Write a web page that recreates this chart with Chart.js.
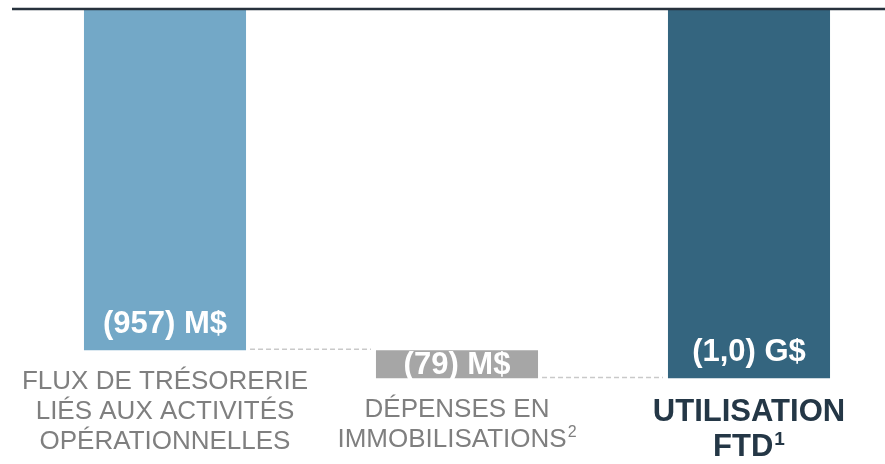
<!DOCTYPE html>
<html>
<head>
<meta charset="utf-8">
<script src="https://cdn.jsdelivr.net/npm/chart.js@4"></script>
<style>
html, body { margin: 0; padding: 0; background: #fff; overflow: hidden; }
#wrap { width: 900px; height: 464px; }
</style>
</head>
<body>
<div id="wrap"><canvas id="chart" width="900" height="464"></canvas></div>
<script>
// category labels, one entry per line, plus footnote markers
const categories = [
    ['FLUX DE TRÉSORERIE', 'LIÉS AUX ACTIVITÉS', 'OPÉRATIONNELLES'],
    ['DÉPENSES EN', 'IMMOBILISATIONS'],
    ['UTILISATION', 'FTD']
];
const footnotes = ['', '2', '1'];
// floating bar start / end, in M$
const starts = [0, -957, 0];
const ends = [-957, -1036, -1036];
const valueLabels = ['(957) M$', '(79) M$', '(1,0) G$'];

const barColors = ['#73a8c7', '#a6a6a6', '#34657f'];
const fontFamily = '"Liberation Sans", Arial, Helvetica, sans-serif';
// last category is the total, highlighted
const labelStyles = [
    { size: 26, weight: 'normal', lineHeight: 30, color: '#7f7f7f' },
    { size: 26, weight: 'normal', lineHeight: 30, color: '#7f7f7f' },
    { size: 31, weight: 'bold', lineHeight: 35, color: '#243746' }
];

const waterfallExtras = {
    id: 'waterfallExtras',
    afterDatasetsDraw(chart) {
        const ctx = chart.ctx;
        const yScale = chart.scales.y;
        const bars = chart.getDatasetMeta(0).data;
        const zeroY = yScale.getPixelForValue(0);

        ctx.save();
        // top rule
        ctx.strokeStyle = '#27323d';
        ctx.lineWidth = 2.5;
        ctx.beginPath();
        ctx.moveTo(12, zeroY);
        ctx.lineTo(chart.width, zeroY);
        ctx.stroke();

        // dashed connectors between bars
        ctx.strokeStyle = '#c9c9c9';
        ctx.lineWidth = 1.5;
        ctx.setLineDash([5, 3]);
        for (let i = 0; i < bars.length - 1; i++) {
            const yy = yScale.getPixelForValue(ends[i]) - 1;
            ctx.beginPath();
            ctx.moveTo(bars[i].x + bars[i].width / 2 + 4, yy);
            ctx.lineTo(bars[i + 1].x - bars[i + 1].width / 2 - 5, yy);
            ctx.stroke();
        }
        ctx.setLineDash([]);

        // value labels inside bars
        ctx.fillStyle = '#ffffff';
        ctx.font = 'bold 31px ' + fontFamily;
        ctx.textAlign = 'center';
        ctx.textBaseline = 'middle';
        bars.forEach((bar, i) => {
            const top = Math.min(bar.y, bar.base);
            const bottom = Math.max(bar.y, bar.base);
            ctx.fillText(valueLabels[i], bar.x, Math.max(bottom - 26, (top + bottom) / 2 + 1.5));
        });

        // category labels under each bar
        ctx.textAlign = 'left';
        ctx.textBaseline = 'alphabetic';
        bars.forEach((bar, i) => {
            const st = labelStyles[i];
            const bottom = Math.max(bar.y, bar.base);
            const supSize = Math.round(st.size * 0.6);
            let y = bottom + 16 + st.size * 0.5 + st.size * 0.36;
            categories[i].forEach((line, j) => {
                const isLast = j === categories[i].length - 1;
                const sup = isLast ? footnotes[i] : '';
                ctx.font = st.weight + ' ' + st.size + 'px ' + fontFamily;
                const w = ctx.measureText(line).width;
                ctx.font = st.weight + ' ' + supSize + 'px ' + fontFamily;
                const sw = sup ? ctx.measureText(sup).width + 1 : 0;
                const x0 = bar.x - (w + sw) / 2;
                ctx.fillStyle = st.color;
                ctx.font = st.weight + ' ' + st.size + 'px ' + fontFamily;
                ctx.fillText(line, x0, y);
                if (sup) {
                    ctx.font = st.weight + ' ' + supSize + 'px ' + fontFamily;
                    ctx.fillText(sup, x0 + w + 1, y - st.size * 0.716 + supSize * 0.716 - 3);
                }
                y += st.lineHeight;
            });
        });
        ctx.restore();
    }
};

new Chart(document.getElementById('chart'), {
    type: 'bar',
    data: {
        labels: categories.map(c => c.join(' ')),
        datasets: [{
            data: starts.map((s, i) => [s, ends[i]]),
            backgroundColor: barColors,
            borderWidth: 0,
            categoryPercentage: 1,
            barPercentage: 0.555
        }]
    },
    options: {
        responsive: false,
        animation: false,
        layout: { padding: { top: 9, left: 19, right: 5, bottom: 85.5 } },
        plugins: {
            legend: { display: false },
            tooltip: { enabled: false }
        },
        scales: {
            x: {
                display: false,
                offset: true
            },
            y: {
                display: false,
                min: -1036,
                max: 0
            }
        }
    },
    plugins: [waterfallExtras]
});
</script>
</body>
</html>
